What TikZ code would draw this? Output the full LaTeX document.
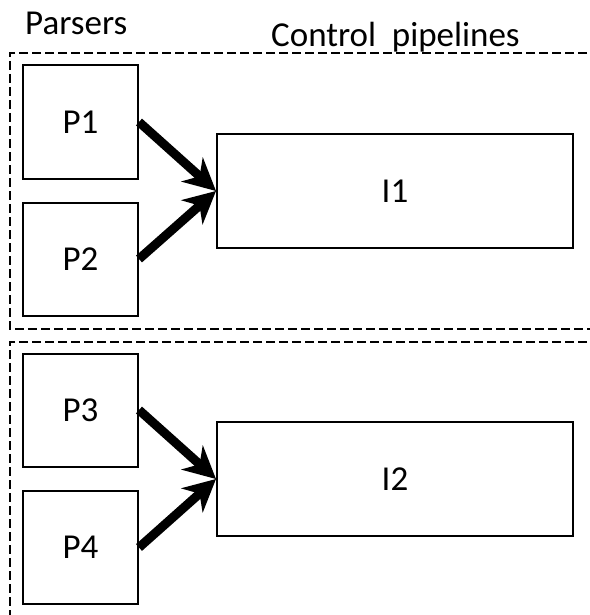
\documentclass[tikz,border=0pt]{standalone}
\usepackage{fontspec}
\setmainfont{Carlito}
\usetikzlibrary{arrows.meta}
\tikzset{
  txt/.style={font=\fontsize{35}{42}\selectfont},
  pbox/.style={txt, draw, line width=2pt, minimum width=115pt, minimum height=113pt, inner sep=0pt},
  ibox/.style={txt, draw, line width=2pt, minimum width=356pt, minimum height=114pt, inner sep=0pt},
  group/.style={draw, line width=1.6pt, dash pattern=on 9pt off 4pt},
  flow/.style={line width=9pt, -{Stealth[length=32pt, width=32pt, inset=10pt]}},
  lbl/.style={txt, inner sep=0pt, anchor=base west}
}
\begin{document}
\begin{tikzpicture}[x=1pt, y=-1pt]
\useasboundingbox (0,0) rectangle (589,615);
% group outlines
\draw[group] (600,53) -- (10,53) -- (10,329) -- (600,329);
\draw[group] (600,342) -- (10,342) -- (10,625);
% labels
\node[lbl] (parsers) at (25,35) {Parsers};
\node[lbl] (control) at (271,47) {Control\hspace{0.45em}pipelines};
% parser boxes
\node[pbox] (P1) at (80.5,122) {P1};
\node[pbox] (P2) at (80.5,259) {P2};
\node[pbox] (P3) at (80.5,410) {P3};
\node[pbox] (P4) at (80.5,547.5) {P4};
% pipeline boxes
\node[ibox] (I1) at (395,191) {I1};
\node[ibox] (I2) at (395,479) {I2};
% arrows
\draw[flow] (P1.east) -- (I1.west);
\draw[flow] (P2.east) -- (I1.west);
\draw[flow] (P3.east) -- (I2.west);
\draw[flow] (P4.east) -- (I2.west);
\end{tikzpicture}
\end{document}
